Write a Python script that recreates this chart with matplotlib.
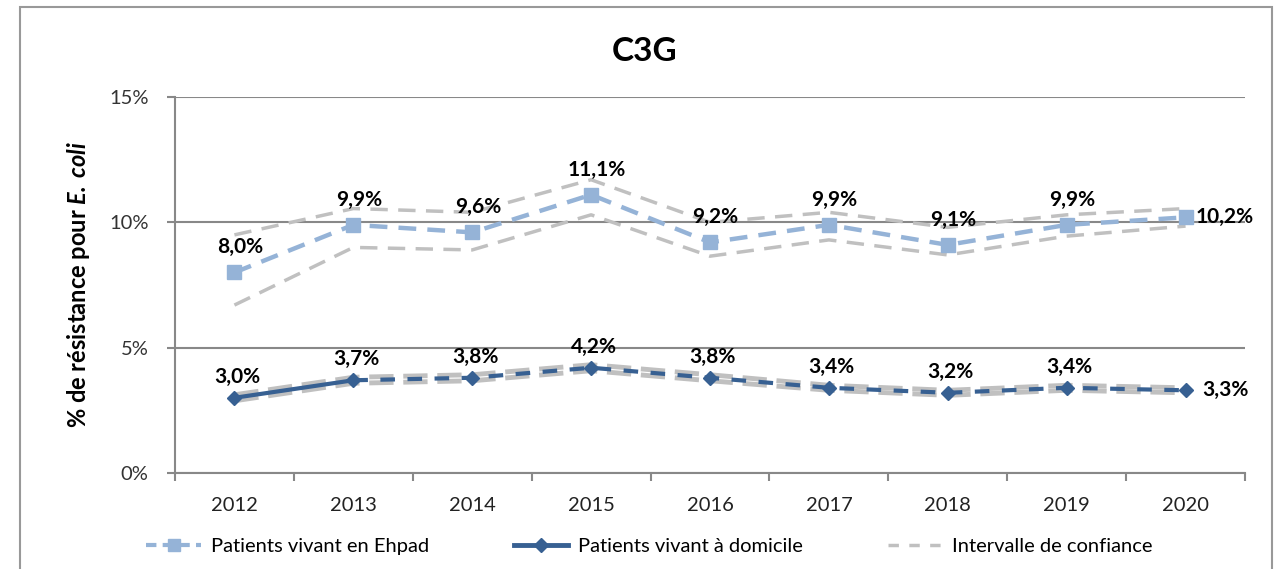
import matplotlib
matplotlib.use("Agg")
from matplotlib import pyplot as plt
from matplotlib.patches import Rectangle
from matplotlib.lines import Line2D

plt.rcParams['font.family'] = ['Lato', 'DejaVu Sans']
plt.rcParams['mathtext.fontset'] = 'custom'
plt.rcParams['mathtext.bfit'] = 'Lato:italic:bold'

years = ['2012', '2013', '2014', '2015', '2016', '2017', '2018', '2019', '2020']

# % resistance, patients in Ehpad
ehpad = [8.0, 9.9, 9.6, 11.1, 9.2, 9.9, 9.1, 9.9, 10.2]
ehpad_hi = [9.5, 10.55, 10.4, 11.7, 10.0, 10.4, 9.8, 10.3, 10.55]
ehpad_lo = [6.7, 9.0, 8.9, 10.3, 8.65, 9.3, 8.7, 9.45, 9.85]

# % resistance, patients living at home
domicile = [3.0, 3.7, 3.8, 4.2, 3.8, 3.4, 3.2, 3.4, 3.3]
domicile_hi = [3.12, 3.82, 3.92, 4.32, 3.92, 3.5, 3.3, 3.5, 3.4]
domicile_lo = [2.88, 3.58, 3.68, 4.08, 3.68, 3.3, 3.1, 3.3, 3.2]

labels = ['Patients vivant en Ehpad', 'Patients vivant à domicile', 'Intervalle de confiance']

c_ehpad = '#95B3D7'
c_dom = '#376092'
c_ci = '#C0C0C0'

fig = plt.figure(figsize=(12.81, 5.69), dpi=100)
ax = fig.add_axes([0.1366, 0.1687, 0.8353, 0.6608])

x = list(range(len(years)))

# confidence intervals
ax.plot(x, ehpad_hi, color=c_ci, lw=2.5, dashes=(5, 3))
ax.plot(x, ehpad_lo, color=c_ci, lw=2.5, dashes=(5, 3))
ax.plot(x, domicile_hi, color=c_ci, lw=3.5, dashes=(5, 2))
ax.plot(x, domicile_lo, color=c_ci, lw=3.5, dashes=(5, 2))

ax.plot(x, ehpad, color=c_ehpad, lw=3.2, dashes=(4, 2.5), marker='s', ms=9.5)
ax.plot(x[:2], domicile[:2], color=c_dom, lw=3)
ax.plot(x[1:], domicile[1:], color=c_dom, lw=3, dashes=(3.5, 3))
ax.plot(x, domicile, color=c_dom, lw=0, marker='D', ms=7)

for i, v in enumerate(ehpad):
    txt = ('%.1f%%' % v).replace('.', ',')
    if i == len(ehpad) - 1:
        ax.annotate(txt, (i, v), xytext=(7, 0), textcoords='offset points',
                    ha='left', va='center', fontsize=15, fontweight='bold')
    else:
        ax.annotate(txt, (i, v), xytext=(4, 11), textcoords='offset points',
                    ha='center', va='bottom', fontsize=15, fontweight='bold')

for i, v in enumerate(domicile):
    txt = ('%.1f%%' % v).replace('.', ',')
    if i == len(domicile) - 1:
        ax.annotate(txt, (i, v), xytext=(12, 0), textcoords='offset points',
                    ha='left', va='center', fontsize=15, fontweight='bold')
    else:
        ax.annotate(txt, (i, v), xytext=(2, 8), textcoords='offset points',
                    ha='center', va='bottom', fontsize=15, fontweight='bold')

ax.set_xlim(-0.5, len(years) - 0.5)
ax.set_ylim(0, 15)
ax.set_yticks([0, 5, 10, 15])
ax.set_yticklabels(['0%', '5%', '10%', '15%'], fontsize=14.5, color='#333333')
ax.set_xticks(x)
ax.set_xticklabels(years, fontsize=14.5, color='#222222')
ax.set_xticks([i - 0.5 for i in range(len(years) + 1)], minor=True)
ax.tick_params(axis='x', which='major', length=0, pad=17)
ax.tick_params(axis='x', which='minor', length=6, color='#888888', width=1.5)
ax.tick_params(axis='y', length=6, color='#888888', width=1.5, pad=13)

ax.grid(axis='y', color='#888888', lw=1.5)
ax.set_axisbelow(True)
for s in ['top', 'right']:
    ax.spines[s].set_visible(False)
for s in ['left', 'bottom']:
    ax.spines[s].set_color('#888888')
    ax.spines[s].set_linewidth(1.5)

ax.set_ylabel(r'% de résistance pour $\mathbfit{E.\,coli}$', fontsize=17,
              fontweight='bold', labelpad=12)
fig.text(0.503, 0.91, 'C3G', ha='center', va='center', fontsize=24, fontweight='bold')

handles = [
    Line2D([], [], color=c_ehpad, lw=3, dashes=(2.5, 1.5), marker='s', ms=9),
    Line2D([], [], color=c_dom, lw=3.5, marker='D', ms=7),
    Line2D([], [], color=c_ci, lw=2.5, dashes=(3, 3)),
]
fig.legend(handles, labels, loc='center', bbox_to_anchor=(0.507, 0.04), ncol=3,
           frameon=False, fontsize=14.5, handlelength=2.7, handletextpad=0.5,
           columnspacing=4.2)

fig.add_artist(Rectangle((20 / 1281, -0.05), 1252 / 1281, 1.05 - 7 / 569,
                         transform=fig.transFigure, fill=False,
                         edgecolor='#999999', lw=1.5))

fig.savefig('out.png', dpi=100)
